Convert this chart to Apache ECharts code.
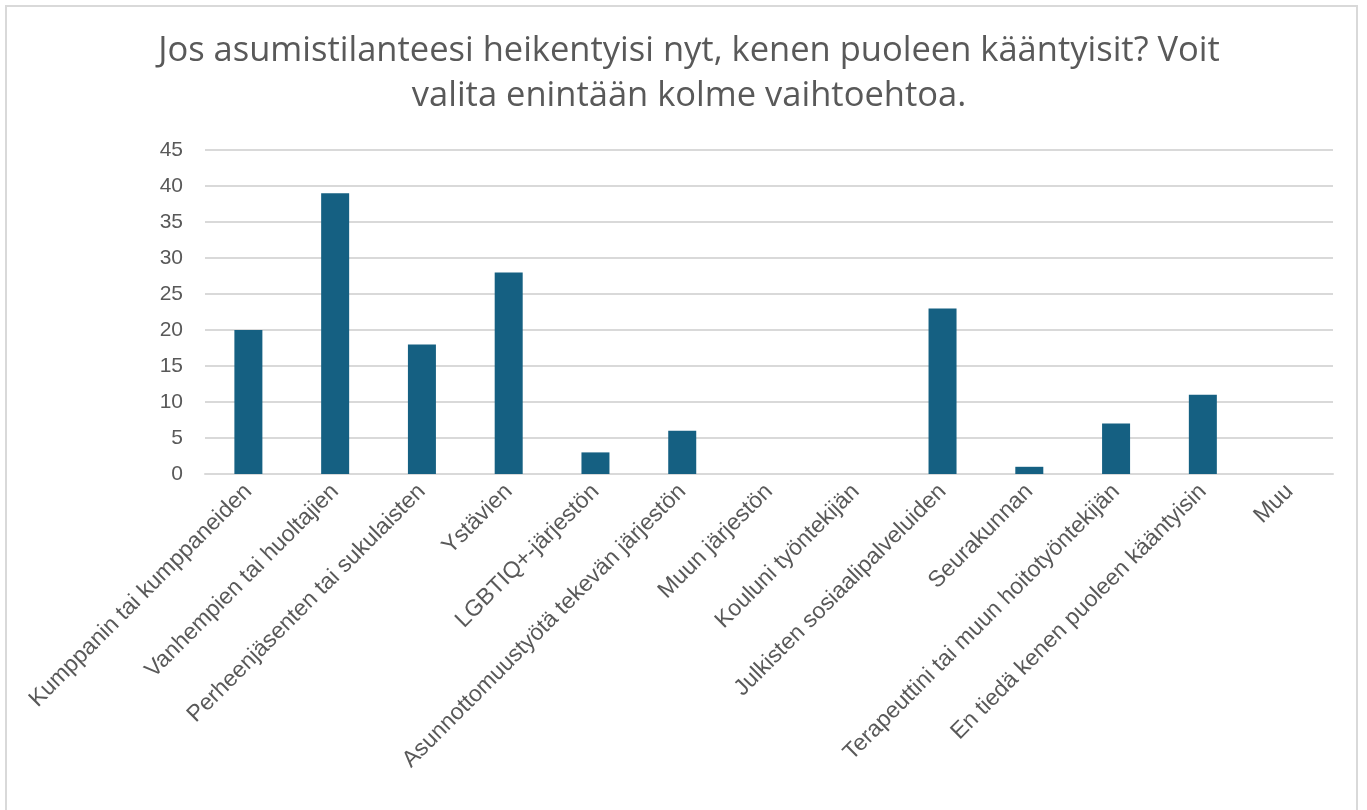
<!DOCTYPE html>
<html>
<head>
<meta charset="utf-8">
<script src="https://cdn.jsdelivr.net/npm/echarts@6/dist/echarts.min.js"></script>
<style>
  html, body { margin: 0; padding: 0; background: #fff; }
  #frame { position: absolute; left: 5px; top: 5px; width: 1353px; height: 810px; border: 2px solid #d9d9d9; box-sizing: border-box; border-bottom: none; }
  #chart { position: absolute; left: 0; top: 0; width: 1367px; height: 810px; }
</style>
</head>
<body>
<div id="frame"></div>
<div id="chart"></div>
<script>
// vastausvaihtoehdot
const categories = [
  "Kumppanin tai kumppaneiden",
  "Vanhempien tai huoltajien",
  "Perheenjäsenten tai sukulaisten",
  "Ystävien",
  "LGBTIQ+-järjestön",
  "Asunnottomuustyötä tekevän järjestön",
  "Muun järjestön",
  "Kouluni työntekijän",
  "Julkisten sosiaalipalveluiden",
  "Seurakunnan",
  "Terapeuttini tai muun hoitotyöntekijän",
  "En tiedä kenen puoleen kääntyisin",
  "Muu"
];
const counts = [20, 39, 18, 28, 3, 6, 0, 0, 23, 1, 7, 11, 0];
const titleText = "Jos asumistilanteesi heikentyisi nyt, kenen puoleen kääntyisit? Voit\nvalita enintään kolme vaihtoehtoa.";

const chart = echarts.init(document.getElementById("chart"));
const textColor = "#595959";

chart.setOption({
  animation: false,
  textStyle: { fontFamily: "Liberation Sans, Arial, sans-serif" },
  title: {
    text: titleText,
    left: 684,
    top: 24,
    textAlign: "center",
    textStyle: {
      fontFamily: "Open Sans, sans-serif",
      fontSize: 34.5,
      fontWeight: "normal",
      color: textColor,
      lineHeight: 45
    }
  },
  grid: { left: 205, right: 34, top: 150, bottom: 336 },
  xAxis: {
    type: "category",
    data: categories,
    axisLine: { lineStyle: { color: "#d9d9d9", width: 2 } },
    axisTick: { show: false },
    axisLabel: {
      rotate: 45,
      interval: 0,
      color: textColor,
      fontSize: 23,
      margin: 14
    }
  },
  yAxis: {
    type: "value",
    min: 0,
    max: 45,
    interval: 5,
    axisLine: { show: false },
    axisTick: { show: false },
    axisLabel: { color: textColor, fontSize: 21, margin: 22 },
    splitLine: { lineStyle: { color: "#d9d9d9", width: 2 } }
  },
  series: [{
    type: "bar",
    data: counts,
    barWidth: 28,
    itemStyle: { color: "#156082" }
  }]
});
</script>
</body>
</html>
